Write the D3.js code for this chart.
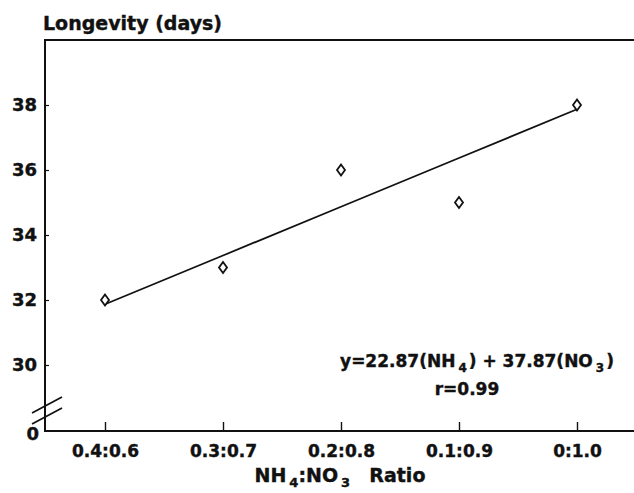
<!DOCTYPE html>
<html>
<head>
<meta charset="utf-8">
<script src="https://cdn.jsdelivr.net/npm/d3@7"></script>
<style>
  body { margin: 0; background: #fff; }
  text { font-family: "DejaVu Sans", sans-serif; font-weight: bold; fill: #111; stroke: #111; stroke-width: 0.4px; }
</style>
</head>
<body>
<div id="canvas"></div>
<script>
// data
const ratios = ["0.4:0.6", "0.3:0.7", "0.2:0.8", "0.1:0.9", "0:1.0"];
const nh4 = [0.4, 0.3, 0.2, 0.1, 0.0];
const no3 = [0.6, 0.7, 0.8, 0.9, 1.0];
const longevity = [32, 33, 36, 35, 38];
const yTicks = [30, 32, 34, 36, 38];
const coefNH4 = 22.87;
const coefNO3 = 37.87;

const width = 634;
const height = 493;

const svg = d3.select("#canvas").append("svg")
  .attr("width", width)
  .attr("height", height);

const x = d3.scalePoint().domain(ratios).range([105, 577]);
const y = d3.scaleLinear().domain([30, 38]).range([365, 105]);

const frameL = 45, frameT = 40, frameB = 431;

// frame (open on the right)
svg.append("path")
  .attr("d", `M${width},${frameT}H${frameL}V${frameB}H${width}`)
  .attr("fill", "none")
  .attr("stroke", "#111")
  .attr("stroke-width", 2);

// y axis
const gy = svg.append("g")
  .attr("transform", `translate(${frameL},0)`)
  .call(d3.axisLeft(y).tickValues(yTicks).tickSizeInner(-4).tickSizeOuter(0).tickPadding(8));
gy.select(".domain").remove();
gy.selectAll("line").attr("stroke", "#111").attr("stroke-width", 1.2);
gy.selectAll("text").style("font-size", "18px").attr("font-family", null);

// zero label and axis break
svg.append("text")
  .attr("x", frameL - 6).attr("y", frameB + 9)
  .attr("text-anchor", "end")
  .style("font-size", "18px")
  .text("0");
[0, 11].forEach((o) => {
  svg.append("line")
    .attr("x1", 32).attr("y1", 413 + o)
    .attr("x2", 62).attr("y2", 397 + o)
    .attr("stroke", "#111").attr("stroke-width", 1.6);
});

// x axis
const gx = svg.append("g")
  .attr("transform", `translate(0,${frameB})`)
  .call(d3.axisBottom(x).tickSizeInner(-9).tickSizeOuter(0).tickPadding(14));
gx.select(".domain").remove();
gx.selectAll("line").attr("stroke", "#111").attr("stroke-width", 1.4);
gx.selectAll("text").style("font-size", "17px").attr("font-family", null);

// regression line from the equation
const fit = ratios.map((r, i) => ({ r, v: coefNH4 * nh4[i] + coefNO3 * no3[i] }));
svg.append("path")
  .datum(fit)
  .attr("d", d3.line().x((d) => x(d.r)).y((d) => y(d.v)))
  .attr("fill", "none")
  .attr("stroke", "#111")
  .attr("stroke-width", 1.8);

// observed points, open diamonds
svg.selectAll(".pt")
  .data(ratios.map((r, i) => ({ r, v: longevity[i] })))
  .enter()
  .append("path")
  .attr("class", "pt")
  .attr("d", "M0,-5.5L4,0L0,5.5L-4,0Z")
  .attr("transform", (d) => `translate(${x(d.r)},${y(d.v)})`)
  .attr("fill", "#fff")
  .attr("stroke", "#111")
  .attr("stroke-width", 1.8);

// titles
svg.append("text")
  .attr("x", 43).attr("y", 30)
  .style("font-size", "19px")
  .text("Longevity (days)");

const xt = svg.append("text")
  .attr("x", 340).attr("y", 482)
  .attr("text-anchor", "middle")
  .style("font-size", "19px");
xt.append("tspan").text("NH");
xt.append("tspan").attr("dy", 5).attr("dx", 3).style("font-size", "13px").text("4");
xt.append("tspan").attr("dy", -5).text(":NO");
xt.append("tspan").attr("dy", 5).attr("dx", 3).style("font-size", "13px").text("3");
xt.append("tspan").attr("dy", -5).attr("dx", 6).text("\u00a0\u00a0Ratio");

const eq = svg.append("text")
  .attr("x", 477).attr("y", 367)
  .attr("text-anchor", "middle")
  .style("font-size", "17px");
eq.append("tspan").text(`y=${coefNH4}(NH`);
eq.append("tspan").attr("dy", 5).attr("dx", 3).style("font-size", "12px").text("4");
eq.append("tspan").attr("dy", -5).attr("dx", 2).text(`) + ${coefNO3}(NO`);
eq.append("tspan").attr("dy", 5).attr("dx", 3).style("font-size", "12px").text("3");
eq.append("tspan").attr("dy", -5).attr("dx", 2).text(")");

svg.append("text")
  .attr("x", 467).attr("y", 395)
  .attr("text-anchor", "middle")
  .style("font-size", "17px")
  .text("r=0.99");
</script>
</body>
</html>
